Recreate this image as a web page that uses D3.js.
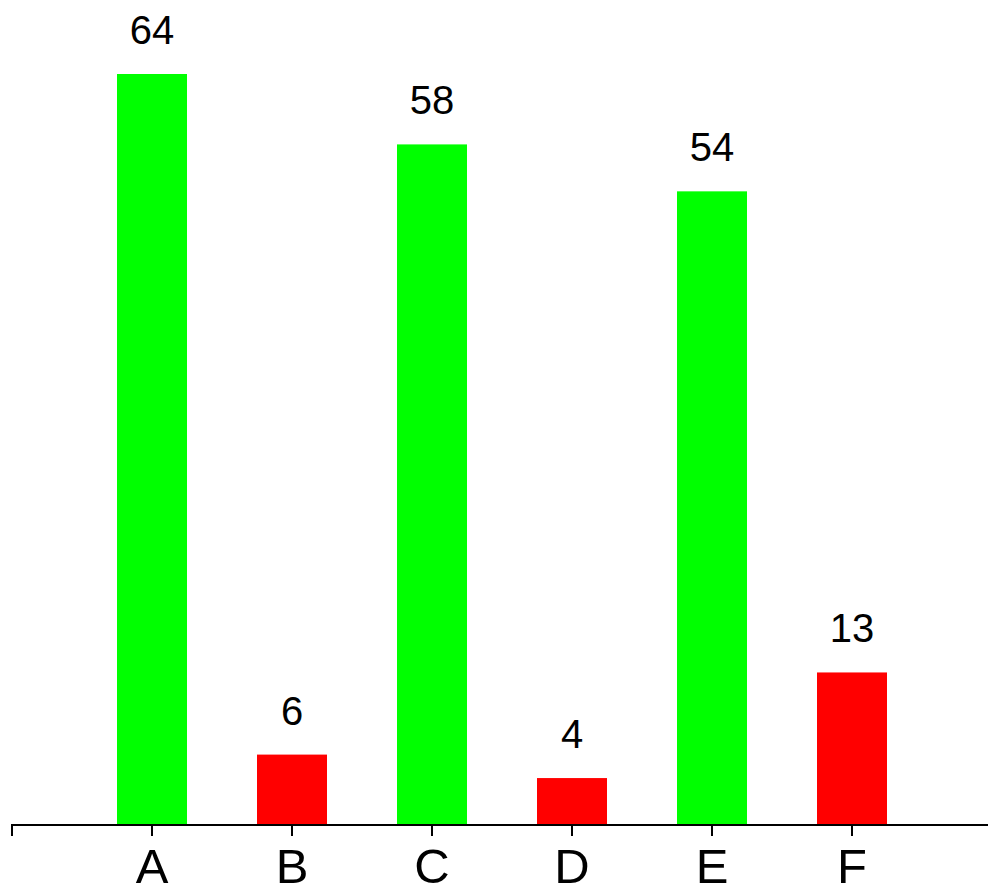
<!DOCTYPE html>
<html>
<head>
<meta charset="utf-8">
<script src="https://cdn.jsdelivr.net/npm/d3@7"></script>
<style>
  body { margin: 0; background: #fff; }
  text { font-family: "Liberation Sans", Arial, sans-serif; }
</style>
</head>
<body>
<div id="chart"></div>
<script>
// chart data
const categories = ["A", "B", "C", "D", "E", "F"];
const values = [64, 6, 58, 4, 54, 13];
const barColors = ["#00ff00", "#ff0000", "#00ff00", "#ff0000", "#00ff00", "#ff0000"];

const width = 988;
const height = 886;
const baseline = 825;

const svg = d3.select("#chart")
    .append("svg")
    .attr("width", width)
    .attr("height", height);

const x = d3.scaleBand()
    .domain(categories)
    .range([82, 922])
    .paddingInner(0.5)
    .paddingOuter(0.25);

const y = d3.scaleLinear()
    .domain([0, 64])
    .range([baseline, 74]);

svg.selectAll(".bar")
    .data(categories)
    .enter()
    .append("rect")
    .attr("class", "bar")
    .attr("x", d => x(d))
    .attr("y", (d, i) => y(values[i]))
    .attr("width", x.bandwidth())
    .attr("height", (d, i) => baseline - y(values[i]))
    .attr("fill", (d, i) => barColors[i]);

svg.selectAll(".val")
    .data(categories)
    .enter()
    .append("text")
    .attr("class", "val")
    .attr("x", d => x(d) + x.bandwidth() / 2)
    .attr("y", (d, i) => y(values[i]) - 30)
    .attr("text-anchor", "middle")
    .attr("font-size", 40)
    .attr("fill", "#000")
    .text((d, i) => values[i]);

const xAxis = svg.append("g")
    .attr("transform", `translate(0,${baseline})`)
    .call(d3.axisBottom(x).tickSize(11).tickSizeOuter(0).tickPadding(10));

xAxis.select(".domain").remove();
xAxis.selectAll(".tick line").attr("stroke", "#000").attr("stroke-width", 2);
xAxis.selectAll(".tick text")
    .attr("font-size", 49)
    .attr("font-family", "Liberation Sans, Arial, sans-serif")
    .attr("fill", "#000")
    .attr("dy", null)
    .attr("y", 58);

// axis line with outer tick at left end
svg.append("path")
    .attr("d", `M12,${baseline + 11}V${baseline}H${width}`)
    .attr("fill", "none")
    .attr("stroke", "#000")
    .attr("stroke-width", 2);
</script>
</body>
</html>
